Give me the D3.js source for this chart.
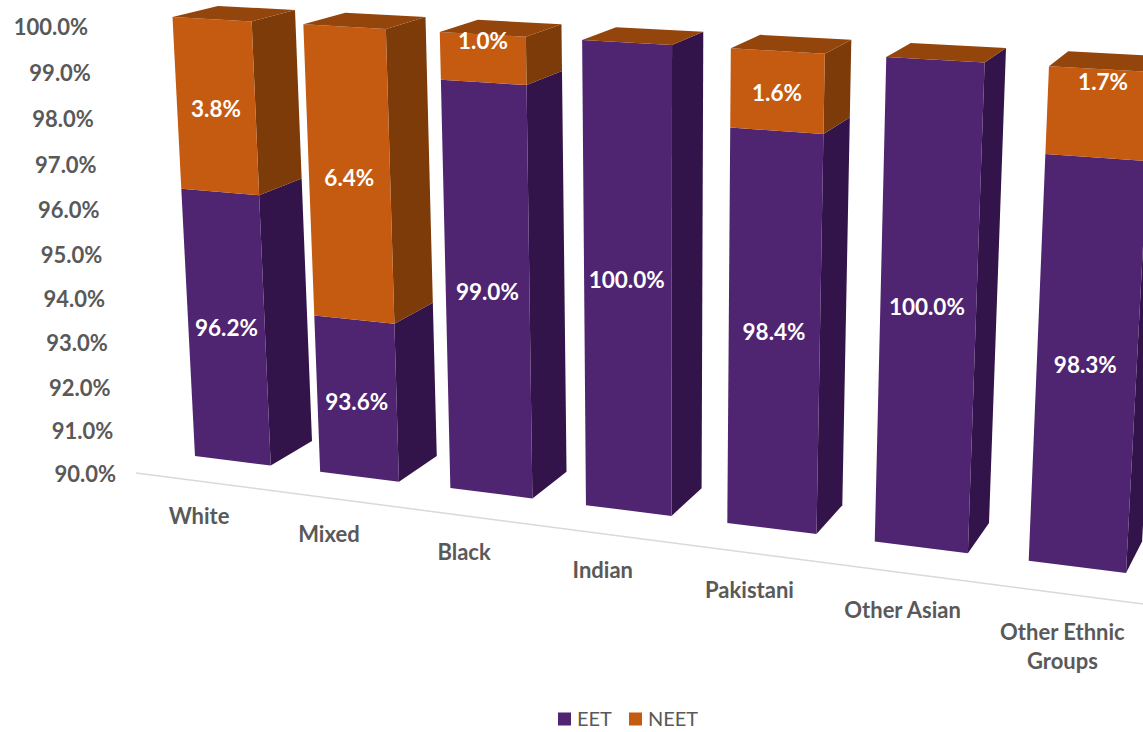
<!DOCTYPE html>
<html>
<head>
<meta charset="utf-8">
<script src="https://cdn.jsdelivr.net/npm/d3@7"></script>
<style>
	html, body { margin: 0; background: #fff; overflow: hidden; }
	text { font-family: Lato, "Open Sans", sans-serif; }
</style>
</head>
<body>
<div id="chart"></div>
<script>
const categories = ["White", "Mixed", "Black", "Indian", "Pakistani", "Other Asian", "Other Ethnic Groups"];
const eet = [96.2, 93.6, 99.0, 100.0, 98.4, 100.0, 98.3];
const neet = [3.8, 6.4, 1.0, 0.0, 1.6, 0.0, 1.7];
const valueTicks = [90, 91, 92, 93, 94, 95, 96, 97, 98, 99, 100];
const seriesNames = ["EET", "NEET"];

const width = 1143, height = 732;
const colors = {
	EET: {front: "#4f2470", side: "#32144a"},
	NEET: {front: "#c55a11", side: "#7d3b0a", top: "#94450c"}
};
const grey = "#595959";

// Solve the 8 unknowns of a plane homography from 4 point pairs
const homography = (pairs) => {
	const A = [];
	pairs.forEach(([[u, v], [x, y]]) => {
		A.push([u, v, 1, 0, 0, 0, -u * x, -v * x, x]);
		A.push([0, 0, 0, u, v, 1, -u * y, -v * y, y]);
	});
	for (let i = 0; i < 8; i++) {
		let p = i;
		for (let r = i + 1; r < 8; r++) if (Math.abs(A[r][i]) > Math.abs(A[p][i])) p = r;
		[A[i], A[p]] = [A[p], A[i]];
		for (let r = 0; r < 8; r++) {
			if (r === i) continue;
			const f = A[r][i] / A[i][i];
			for (let c = i; c < 9; c++) A[r][c] -= f * A[i][c];
		}
	}
	const h = A.map((row, i) => row[8] / row[i]);
	return (u, v) => {
		const w = h[6] * u + h[7] * v + 1;
		return [(h[0] * u + h[1] * v + h[2]) / w, (h[3] * u + h[4] * v + h[5]) / w];
	};
};

const x = d3.scaleBand().domain(categories).range([0, 1]).paddingInner(0.39).paddingOuter(0);
const y = d3.scaleLinear().domain([90, 100]).range([0, 1]);
const bw = x.bandwidth();
const uLast = x(categories[6]), uAsian = x(categories[5]) + bw;
const uAxisL = bw / 2 - x.step() / 2, uAxisR = uLast + bw / 2 + x.step() / 2;

// The three receding planes of the 3D chart: axis wall, bar fronts, bar backs
const front = homography([
	[[0, 0], [195, 456]], [[1, 0], [1126, 573]],
	[[0, 1], [172.5, 17]], [[1, 1], [1152, 72]]
]);
const back = homography([
	[[bw, 0], [312, 441]], [[uAsian, 0], [989, 523]],
	[[bw, 1], [295, 10]], [[uAsian, 1], [1006, 48]]
]);
const axisPlane = homography([
	[[uAxisL, 0], [136, 473]], [[uAxisR, 0], [1147, 604.5]],
	[[uAxisL, 1], [108, 27]], [[uAxisR, 1], [1169, 92]]
]);

const svg = d3.select("#chart").append("svg")
	.attr("width", width)
	.attr("height", height)
	.style("display", "block");

const poly = (pts, fill) => svg.append("polygon")
	.attr("points", pts.map(p => p.join(",")).join(" "))
	.attr("fill", fill);

// Value axis labels
valueTicks.forEach(t => {
	const [px, py] = axisPlane(uAxisL, y(t));
	svg.append("text")
		.attr("x", px - 20)
		.attr("y", py + (t < 93 ? 1.5 : 0))
		.attr("dy", "0.35em")
		.attr("text-anchor", "end")
		.attr("font-size", 22)
		.attr("font-weight", 700)
		.attr("fill", grey)
		.text(d3.format(".1%")(t / 100));
});

// Floor line
const baseL = axisPlane(uAxisL, 0), baseR = axisPlane(uAxisR, 0);
svg.append("line")
	.attr("x1", baseL[0]).attr("y1", baseL[1])
	.attr("x2", baseR[0]).attr("y2", baseR[1])
	.attr("stroke", "#d9d9d9")
	.attr("stroke-width", 1.5);

// Bars
const segment = (cat, from, to, c) => {
	const u0 = x(cat), u1 = u0 + bw, v0 = y(from), v1 = y(to);
	poly([front(u1, v0), back(u1, v0), back(u1, v1), front(u1, v1)], c.side);
	poly([front(u0, v0), front(u1, v0), front(u1, v1), front(u0, v1)], c.front);
};

categories.forEach((cat, i) => {
	const u0 = x(cat), u1 = u0 + bw, top = y(100);
	segment(cat, 90, eet[i], colors.EET);
	if (neet[i] > 0) segment(cat, eet[i], 100, colors.NEET);
	poly([front(u0, top), front(u1, top), back(u1, top), back(u0, top)], colors.NEET.top);
});

// Data labels. Excel moved the two thin NEET labels off the segment centre
const labelShift = {"White": [0, 3], "Mixed": [0, 3], "Black": [0, -17], "Pakistani": [0, 2], "Other Ethnic Groups": [5, -31]};
const eetShift = {"Mixed": [0, 3], "Indian": [-1, -2], "Pakistani": [0, -2], "Other Asian": [-1, -3], "Other Ethnic Groups": [-1, -2]};
const dataLabel = (cat, from, to, val, shift) => {
	const [px, py] = front(x(cat) + bw / 2, y((from + to) / 2));
	svg.append("text")
		.attr("x", px + shift[0])
		.attr("y", py + shift[1])
		.attr("dy", "0.35em")
		.attr("text-anchor", "middle")
		.attr("font-size", 22.5)
		.attr("font-weight", 700)
		.attr("fill", "#fff")
		.text(val.toFixed(1) + "%");
};
categories.forEach((cat, i) => {
	dataLabel(cat, 90, eet[i], eet[i], eetShift[cat] || [0, 0]);
	if (neet[i] > 0) dataLabel(cat, eet[i], 100, neet[i], labelShift[cat] || [0, 0]);
});

// Category labels, wrapped like the original
categories.forEach(cat => {
	const [px, py] = axisPlane(x(cat) + bw / 2, 0);
	const lines = cat === "Other Ethnic Groups" ? ["Other Ethnic", "Groups"] : [cat];
	lines.forEach((line, j) => {
		svg.append("text")
			.attr("x", px - (px > 500 ? 2 : 0))
			.attr("y", py + 35.5 + (px - 200) * 0.003 + j * 29)
			.attr("dy", "0.35em")
			.attr("text-anchor", "middle")
			.attr("font-size", 22)
			.attr("font-weight", 700)
			.attr("fill", grey)
			.text(line);
	});
});

// Legend
const legend = svg.append("g").attr("transform", "translate(558,719)");
seriesNames.forEach((name, i) => {
	const g = legend.append("g").attr("transform", `translate(${i * 71},0)`);
	g.append("rect")
		.attr("x", 0).attr("y", -6.5)
		.attr("width", 13).attr("height", 13)
		.attr("fill", colors[name].front);
	g.append("text")
		.attr("x", 19)
		.attr("dy", "0.35em")
		.attr("font-size", 20)
		.attr("fill", grey)
		.text(name);
});
</script>
</body>
</html>
